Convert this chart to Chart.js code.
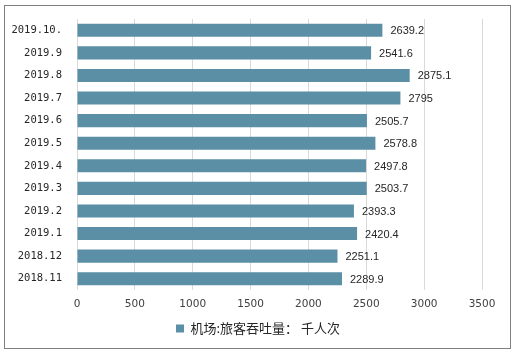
<!DOCTYPE html>
<html><head><meta charset="utf-8">
<script src="https://cdn.jsdelivr.net/npm/chart.js@4/dist/chart.umd.min.js"></script>
<style>
html,body{margin:0;padding:0;background:#fff;}
#wrap{position:relative;width:515px;height:354px;}
#frame{position:absolute;left:4px;top:5px;width:505px;height:342px;border:1px solid #808080;pointer-events:none;}
canvas{position:absolute;left:0;top:0;}
</style></head>
<body>
<div id="wrap"><canvas id="c" width="515" height="354"></canvas><div id="frame"></div></div>
<script>
const categories = ["2019.10.","2019.9","2019.8","2019.7","2019.6","2019.5","2019.4","2019.3","2019.2","2019.1","2018.12","2018.11"];
const values = [2639.2,2541.6,2875.1,2795,2505.7,2578.8,2497.8,2503.7,2393.3,2420.4,2251.1,2289.9];
const valueLabels = ["2639.2","2541.6","2875.1","2795","2505.7","2578.8","2497.8","2503.7","2393.3","2420.4","2251.1","2289.9"];
const xTicks = [0,500,1000,1500,2000,2500,3000,3500];
const seriesName = "机场:旅客吞吐量： 千人次";

const labelPlugin = {
  id:'barLabels',
  afterLayout(chart){
    if (chart.legend){ chart.legend.left += 17; chart.legend.right += 17; }
  },
  afterDatasetsDraw(chart){
    const ctx = chart.ctx;
    const meta = chart.getDatasetMeta(0);
    ctx.save();
    ctx.font = '11px "Liberation Sans", Arial, sans-serif';
    ctx.fillStyle = '#262626';
    ctx.textAlign = 'left';
    ctx.textBaseline = 'middle';
    meta.data.forEach((bar,i)=>{
      ctx.fillText(valueLabels[i], bar.x + 8, bar.y + 1);
    });
    ctx.restore();
  }
};

new Chart(document.getElementById('c'), {
  type:'bar',
  data:{labels:categories, datasets:[{label:seriesName, data:values, backgroundColor:'#5b8fa6', borderWidth:0, barPercentage:0.58, categoryPercentage:1}]},
  options:{
    indexAxis:'y', responsive:false, animation:false,
    layout:{padding:{left:0,right:33,top:19,bottom:9}},
    scales:{
      x:{min:0,max:3500,
         afterBuildTicks(s){s.ticks = xTicks.map(v=>({value:v}));},
         ticks:{color:'#404040',font:{family:'"DejaVu Sans", sans-serif',size:10.5},padding:8,callback:(v)=>String(v)},
         grid:{color:'#d9d9d9',drawTicks:false}, border:{display:false},
         afterFit(s){s.height=26;}},
      y:{ticks:{color:'#262626',font:{family:'"DejaVu Sans Mono", monospace',size:10.5},padding:7},
         grid:{display:false}, border:{display:false},
         afterFit(s){s.width=77;}}
    },
    plugins:{
      legend:{position:'bottom',labels:{boxWidth:8,boxHeight:8,color:'#262626',font:{family:'"Noto Sans CJK SC", sans-serif',size:13},padding:6}},
      tooltip:{enabled:false}
    }
  },
  plugins:[labelPlugin]
});
</script>
</body></html>
